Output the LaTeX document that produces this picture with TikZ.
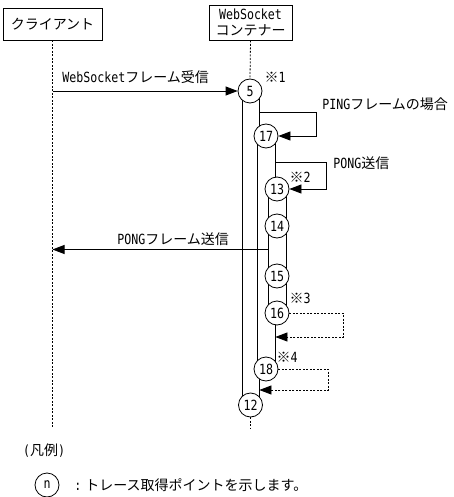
\documentclass[tikz,border=0pt]{standalone}
\usepackage{fontspec}
\setmainfont{Noto Sans CJK JP}
\newfontfamily\lat{DejaVu Sans Mono}[FakeStretch=0.83]
\usetikzlibrary{arrows.meta,positioning}
\tikzstyle{actor} = [rectangle, draw=black, fill=white, inner sep=1pt, align=center]
\tikzstyle{point} = [circle, draw=black, fill=white, minimum size=24pt, inner sep=0pt, font=\fontsize{14}{16}\selectfont\lat]
\tikzstyle{bar} = [rectangle, draw=black, fill=white, inner sep=0pt]
\tikzstyle{lifeline} = [dash pattern=on 2pt off 1.5pt]
\tikzstyle{arrow} = [-{Triangle[length=12pt,width=9pt]}]
\tikzstyle{loopback} = [arrow, dash pattern=on 2pt off 1.5pt]
\tikzstyle{note} = [inner sep=0pt]

\begin{document}
\begin{tikzpicture}[x=1pt, y=-1pt, line width=0.8pt, font=\fontsize{14}{16.5}\selectfont]
   \useasboundingbox (0,0) rectangle (453,497);
   \node (client) [actor, minimum width=99pt, minimum height=32pt] at (52.5,24) {クライアント};
   \node (container) [actor, minimum width=83pt, minimum height=35pt] at (250.5,22.5) {{\lat WebSocket}\\コンテナー};
   % execution bars
   \node (bar1) [bar, minimum width=17pt, minimum height=314pt] at (250.5,248) {};
   \node (bar2) [bar, minimum width=18pt, minimum height=233pt] at (266,252.5) {};
   \node (bar3) [bar, minimum width=18pt, minimum height=124pt] at (277,251) {};
   % trace points
   \node (p5) [point] at (250,91) {5};
   \node (p17) [point] at (266,136) {17};
   \node (p13) [point] at (277,189) {13};
   \node (p14) [point] at (277,226) {14};
   \node (p15) [point] at (277,276) {15};
   \node (p16) [point] at (277,313) {16};
   \node (p18) [point] at (266,369) {18};
   \node (p12) [point] at (250.5,405) {12};
   \coordinate (client end) at (52.5,428);
   \coordinate (container end) at (250.5,428);
   \draw [lifeline] (client.south) -- (client end);
   \draw [lifeline] (container.south) -- (p5.north);
   \draw [lifeline] (p12.south) -- (container end);
   % messages
   \draw [arrow] (client.south |- p5) -- (p5.west);
   \draw [arrow] (bar1.east |- 0,112) -- ++(57,0) |- (p17.east);
   \draw [arrow] (bar2.east |- 0,162) -- ++(51,0) |- (p13.east);
   \draw [arrow] (bar3.west |- 0,249.5) -- (client.south |- 0,249.5);
   \draw [loopback] (p16.east) -- ++(54,0) |- (bar2.east |- 0,337);
   \draw [loopback] (p18.east) -- ++(50,0) |- (bar1.east |- 0,390);
   \node (recv) [note, anchor=west] at (62,77) {{\lat WebSocket}フレーム受信};
   \node (ping) [note, anchor=west] at (322,104) {{\lat PING}フレームの場合};
   \node (pong) [note, anchor=west] at (333,163) {{\lat PONG}送信};
   \node (send) [note, anchor=west] at (117,239) {{\lat PONG}フレーム送信};
   \node (n1) [note] at (275,77) {※{\lat 1}};
   \node (n2) [note] at (300,177) {※{\lat 2}};
   \node (n3) [note] at (300,298) {※{\lat 3}};
   \node (n4) [note] at (287,357) {※{\lat 4}};
   % legend
   \node (legend) [note] at (44,451) {{\lat (}凡例{\lat )}};
   \node (sample) [point] at (47,485) {n};
   \node (legend text) [note, anchor=west] at (74,485) {{\lat :}\hspace{4pt}トレース取得ポイントを示します。};
\end{tikzpicture}
\end{document}
